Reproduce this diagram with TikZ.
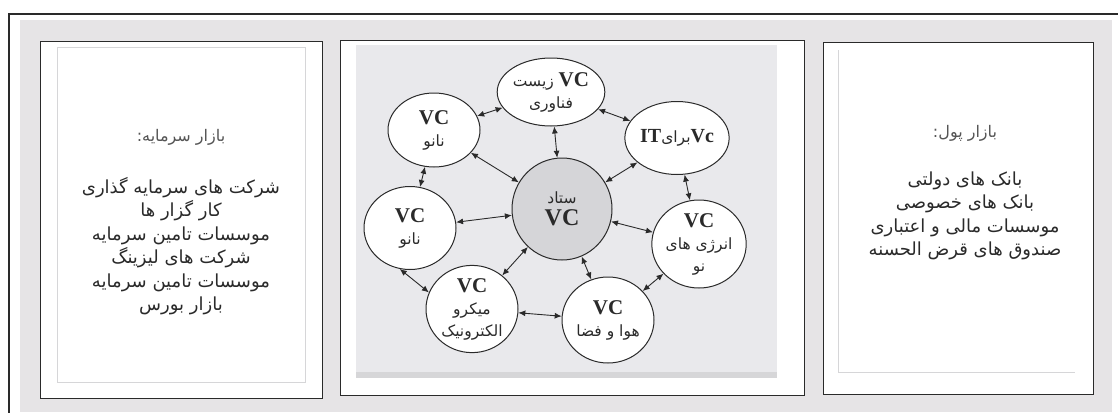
\documentclass[tikz,border=0pt]{standalone}
\usepackage{fontspec}
\usetikzlibrary{arrows.meta,shapes.geometric}
\usepackage{xcolor}
\TeXXeTstate=1
\newfontfamily\fa[Script=Arabic]{DejaVu Sans}
\newfontfamily\lat{Liberation Serif}
\definecolor{framegrey}{HTML}{E6E4E6}
\definecolor{areagrey}{HTML}{E9E9EC}
\definecolor{hubgrey}{HTML}{D5D5D8}
\definecolor{inkgrey}{HTML}{2A2A2A}
\definecolor{rulegrey}{HTML}{D6D6D8}
\newcommand{\rl}[1]{{\fa\beginR #1\endR}}
\newcommand{\vc}{{\fontsize{21}{22}\selectfont\lat\bfseries VC}}

\tikzset{
  panelbox/.style={draw=inkgrey,line width=1pt,fill=white},
  vcnode/.style={ellipse,draw=inkgrey,line width=1pt,fill=white,minimum width=92pt,
    inner sep=0pt,align=center,text=inkgrey,font=\fontsize{15.5}{22}\selectfont},
  biarrow/.style={{Latex[length=7pt,width=6pt]}-{Latex[length=7pt,width=6pt]},line width=0.9pt,inkgrey},
  paneltext/.style={align=center,text=inkgrey,font=\fontsize{18}{23.5}\selectfont},
  panelhead/.style={text=inkgrey!80,font=\fontsize{16}{18}\selectfont}
}

\begin{document}
\begin{tikzpicture}[x=1pt,y=-1pt]
  \useasboundingbox (0,0) rectangle (1118,415);
  % Background and outer frame
  \fill[framegrey] (20,20) rectangle (1112,412);
  \draw[inkgrey,line width=1.2pt] (1118,14) -- (9,14) -- (9,413);
  % Panels
  \draw[panelbox] (40,41) rectangle (322,398);
  \draw[panelbox] (340,40) rectangle (804,395);
  \draw[panelbox] (823,42) rectangle (1093,394);
  % Faint inner rules
  \draw[rulegrey,line width=1pt] (57,47) rectangle (305,382);
  \draw[rulegrey,line width=1pt] (838,50) -- (838,372) -- (1075,372);
  % Diagram area
  \fill[areagrey] (356,45) rectangle (777,378);
  \fill[rulegrey] (356,372) rectangle (777,378);

  % Capital market
  \node[panelhead] (capitalhead) at (181,137) {\rl{بازار سرمایه:}};
  \node[paneltext] (capitallist) at (181,246) {%
    \rl{شرکت های سرمایه گذاری}\\
    \rl{کار گزار ها}\\
    \rl{موسسات تامین سرمایه}\\
    \rl{شرکت های لیزینگ}\\
    \rl{موسسات تامین سرمایه}\\
    \rl{بازار بورس}};

  % Money market
  \node[panelhead] (moneyhead) at (965,133) {\rl{بازار پول:}};
  \node[paneltext] (moneylist) at (965,216) {%
    \rl{بانک های دولتی}\\
    \rl{بانک های خصوصی}\\
    \rl{موسسات مالی و اعتباری}\\
    \rl{صندوق های قرض الحسنه}};

  % VC hub and its ring
  \node[vcnode,fill=hubgrey,minimum width=100pt,minimum height=102pt] (hq) at (562,209)
    {\rl{ستاد}\\{\fontsize{24}{24}\selectfont\lat\bfseries VC}};
  \node[vcnode,minimum height=68pt] (zist) at (551,92)
    {\rl{{\fontsize{21}{22}\selectfont\beginL\lat\bfseries VC\endL} زیست}\\\rl{فناوری}};
  \node[vcnode,minimum height=73pt] (it) at (677,138)
    {\rl{{\fontsize{20}{22}\selectfont\beginL\lat\bfseries Vc\endL}برای{\fontsize{20}{22}\selectfont\beginL\lat\bfseries IT\endL}}};
  \node[vcnode,minimum height=88pt] (energy) at (699,244)
    {\vc\\\rl{انرژی های}\\\rl{نو}};
  \node[vcnode,minimum height=86pt] (aero) at (608,320)
    {\vc\\\rl{هوا و فضا}};
  \node[vcnode,minimum height=85pt] (micro) at (472,309)
    {\vc\\\rl{میکرو}\\\rl{الکترونیک}};
  \node[vcnode,minimum height=83pt] (nanob) at (410,228)
    {\vc\\\rl{نانو}};
  \node[vcnode,minimum height=74pt] (nanoa) at (434,130)
    {\vc\\\rl{نانو}};

  % Spokes
  \foreach \n in {zist,it,energy,aero,micro,nanob,nanoa}
    \draw[biarrow] (hq) -- (\n);
  % Ring
  \draw[biarrow] (nanoa) -- (zist);
  \draw[biarrow] (zist) -- (it);
  \draw[biarrow] (it) -- (energy);
  \draw[biarrow] (energy) -- (aero);
  \draw[biarrow] (aero) -- (micro);
  \draw[biarrow] (micro.159) -- (nanob.-104);
  \draw[biarrow] (nanob) -- (nanoa);
\end{tikzpicture}
\end{document}
